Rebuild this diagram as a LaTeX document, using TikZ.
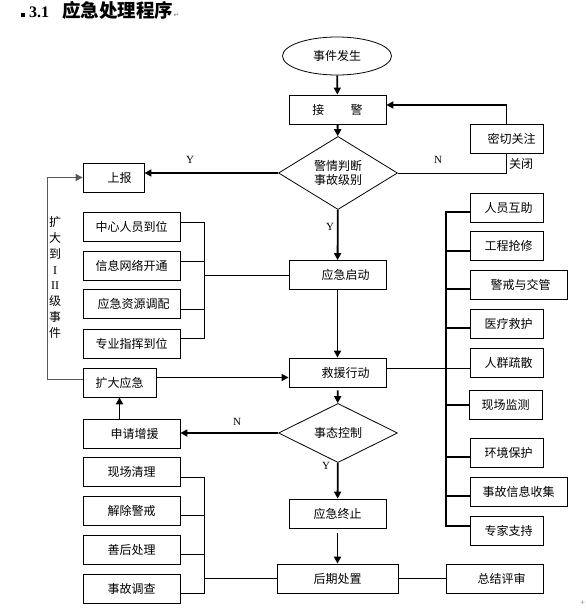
\documentclass[tikz,border=0pt]{standalone}
\usepackage{fontspec}
\setmainfont{Liberation Serif}
\newfontfamily\cjk{Noto Sans CJK SC}
\newfontfamily\sym{DejaVu Sans}
\usetikzlibrary{shapes.geometric,arrows.meta,calc}
\begin{document}
\begin{tikzpicture}[x=1pt,y=-1pt,
  box/.style={draw, line width=0.8pt, minimum width=#1, minimum height=29pt, inner sep=0pt,
    font=\cjk\fontsize{12}{14}\selectfont},
  box/.default=97pt,
  dia/.style={diamond, draw, line width=0.8pt, inner sep=0pt, align=center,
    font=\cjk\fontsize{12}{14}\selectfont},
  arr/.style={-{Triangle[length=7pt,width=7pt]}, line width=1.8pt},
  ln/.style={line width=0.8pt},
  lnr/.style={line width=1.3pt},
  lab/.style={font=\fontsize{11}{12}\selectfont}]
\useasboundingbox (0,0) rectangle (586,613);
% title
\fill (21,13) rectangle (25,17);
\node[anchor=base west, inner sep=0pt, font=\bfseries\fontsize{16}{18}\selectfont] (t1) at (29,17) {3.1};
\node[anchor=base west, inner sep=0pt, font=\cjk\bfseries\fontsize{18.5}{20}\selectfont] (t2) at (62,17) {应急处理程序};
\node[anchor=base west, inner sep=0pt, gray, font=\sym\fontsize{7}{8}\selectfont] (t3) at (t2.base east) {↵};
% main column
\node[ellipse, draw, line width=0.8pt, minimum width=109pt, minimum height=38pt, inner sep=0pt,
  font=\cjk\fontsize{12}{14}\selectfont] (start) at (337,56) {事件发生};
\node[box] (jj) at (337.5,109.5) {接\hspace{2.2em}警};
\node[dia, minimum width=119pt, minimum height=58pt] (judge) at (338,173) {警情判断\\事故级别};
\node[box=61pt] (sb) at (113.5,177.5) {\hspace{12pt}上报};
\node[box=73pt] (mq) at (506.5,138.5) {\hspace{10pt}密切关注};
\node[box] (yjqd) at (337.5,275) {\hspace{16pt}应急启动};
\node[box] (jyxd) at (337.5,372.5) {\hspace{16pt}救援行动};
\node[dia, minimum width=119pt, minimum height=38pt] (stkz) at (338,433) {事态控制};
\node[box] (sqzy) at (131.5,434) {\hspace{6pt}申请增援};
\node[box=73pt] (kd) at (119.5,382.5) {扩大应急};
\node[box] (zz) at (337.5,513.5) {应急终止};
\node[box=121pt] (hq) at (337.5,578.5) {后期处置};
\node[box] (zj) at (494.5,578.5) {\hspace{14pt}总结评审};
% left group 1
\node[box] (a1) at (131.5,226.5) {中心人员到位};
\node[box] (a2) at (131.5,265.5) {信息网络开通};
\node[box] (a3) at (131.5,304) {\hspace{4pt}应急资源调配};
\node[box] (a4) at (131.5,343.5) {专业指挥到位};
% left group 2
\node[box] (b1) at (131.5,471.5) {现场清理};
\node[box] (b2) at (131.5,510.5) {解除警戒};
\node[box] (b3) at (131.5,549.5) {善后处理};
\node[box] (b4) at (131.5,588.5) {事故调查};
% right group
\node[box=73pt] (r1) at (506.5,207.5) {\hspace{4pt}人员互助};
\node[box=73pt] (r2) at (506.5,246) {\hspace{4pt}工程抢修};
\node[box] (r3) at (518.5,284.5) {\hspace{4pt}警戒与交管};
\node[box=73pt] (r4) at (506.5,323.5) {\hspace{4pt}医疗救护};
\node[box=73pt] (r5) at (506.5,362.5) {\hspace{4pt}人群疏散};
\node[box=73pt] (r6) at (505.5,405) {现场监测};
\node[box=73pt] (r7) at (506.5,452.5) {\hspace{4pt}环境保护};
\node[box] (r8) at (518.5,491.5) {事故信息收集};
\node[box=73pt] (r9) at (506.5,530.5) {\hspace{4pt}专家支持};
% labels
\node[lab] (ly1) at (190,160) {Y};
\node[lab] (ln1) at (438,160) {N};
\node[font=\cjk\fontsize{12}{14}\selectfont] (gb) at (521,164) {关闭};
\node[lab] (ly2) at (330,227) {Y};
\node[lab] (ln2) at (237,422) {N};
\node[lab] (ly3) at (326,466) {Y};
\node[align=center, inner sep=0pt, font=\fontsize{12}{15.8}\selectfont] (vl) at (55,277.5)
  {{\cjk 扩}\\{\cjk 大}\\{\cjk 到}\\I\\II\\{\cjk 级}\\{\cjk 事}\\{\cjk 件}};
\node[gray, font=\sym\fontsize{6}{6}\selectfont] (plus) at (583,603) {+};
% coordinates
\coordinate (spL) at (204,0);
\coordinate (spR) at (446,0);
\coordinate (fbx) at (47,0);
% main arrows
\draw[arr] (start) -- (jj);
\draw[arr] (jj) -- (judge);
\draw[arr, line width=1.6pt] (judge.west) -- (judge.west -| sb.east);
\draw[ln] (judge.east) -| (mq.south);
\coordinate (jjin) at ($(jj.east)+(0,-4.5)$);
\draw[ln] (mq.north) -- (mq.north |- jjin);
\draw[arr, line width=1.6pt] (mq.north |- jjin) -- (jjin);
\draw[arr] (judge) -- (yjqd);
\draw[arr] (yjqd) -- (jyxd);
\draw[arr, shorten <=3pt] (jyxd) -- (stkz);
\draw[arr, line width=1.6pt] (stkz.west) -- (stkz.west -| sqzy.east);
\draw[arr, line width=1.6pt] (kd.south |- sqzy.north) -- (kd.south);
\coordinate (kde) at ($(kd.east)+(0,-5)$);
\draw[arr, line width=1.6pt] (kde) -- (kde -| jyxd.west);
\coordinate (kdw) at ($(kd.west)+(0,-3.5)$);
\draw[line width=1pt, black!65, -{Triangle[length=7pt,width=7pt]}] (kdw) -- (kdw -| fbx) -- (fbx |- sb.west) -- (sb.west);
\draw[arr] (stkz) -- (zz);
\draw[arr, shorten <=5pt] (zz) -- (hq);
\draw[lnr] (hq) -- (zj);
% left group 1 bracket
\coordinate (a1c) at ($(a1.east)+(0,-4.5)$);
\coordinate (a2c) at ($(a2.east)+(0,-4.5)$);
\coordinate (a3c) at ($(a3.east)+(0,5)$);
\coordinate (a4c) at ($(a4.east)+(0,-5.5)$);
\draw[ln] (a1c) -- (a1c -| spL) -- (a4c -| spL) -- (a4c);
\draw[ln] (a2c) -- (a2c -| spL);
\draw[ln] (a3c) -- (a3c -| spL);
\draw[ln] (yjqd.west -| spL) -- (yjqd.west);
% left group 2 bracket
\coordinate (b1c) at ($(b1.east)+(0,5.5)$);
\coordinate (b2c) at ($(b2.east)+(0,5)$);
\coordinate (b3c) at ($(b3.east)+(0,4.5)$);
\coordinate (b4c) at ($(b4.east)+(0,4.5)$);
\draw[ln] (b1c) -- (b1c -| spL) -- (b4c -| spL) -- (b4c);
\draw[ln] (b2c) -- (b2c -| spL);
\draw[ln] (b3c) -- (b3c -| spL);
\draw[ln] (hq.west -| spL) -- (hq.west);
% right group
\coordinate (r1c) at ($(r1.west)+(0,4.5)$);
\coordinate (r2c) at ($(r2.west)+(0,5)$);
\coordinate (r3c) at ($(r3.west)+(0,4.5)$);
\coordinate (r4c) at ($(r4.west)+(0,4.5)$);
\coordinate (r5c) at ($(r5.west)+(0,5.5)$);
\coordinate (r6c) at ($(r6.west)+(0,0)$);
\coordinate (r7c) at ($(r7.west)+(0,4.5)$);
\coordinate (r8c) at ($(r8.west)+(0,4.5)$);
\coordinate (r9c) at ($(r9.west)+(0,-4.5)$);
\draw[lnr] (r1c) -- (r1c -| spR) -- (r9c -| spR) -- (r9c);
\foreach \c in {r2c,r3c,r4c,r6c,r7c,r8c} \draw[lnr] (\c) -- (\c -| spR);
\draw[ln] (jyxd.east |- r5c) -- (r5c);
\end{tikzpicture}
\end{document}
